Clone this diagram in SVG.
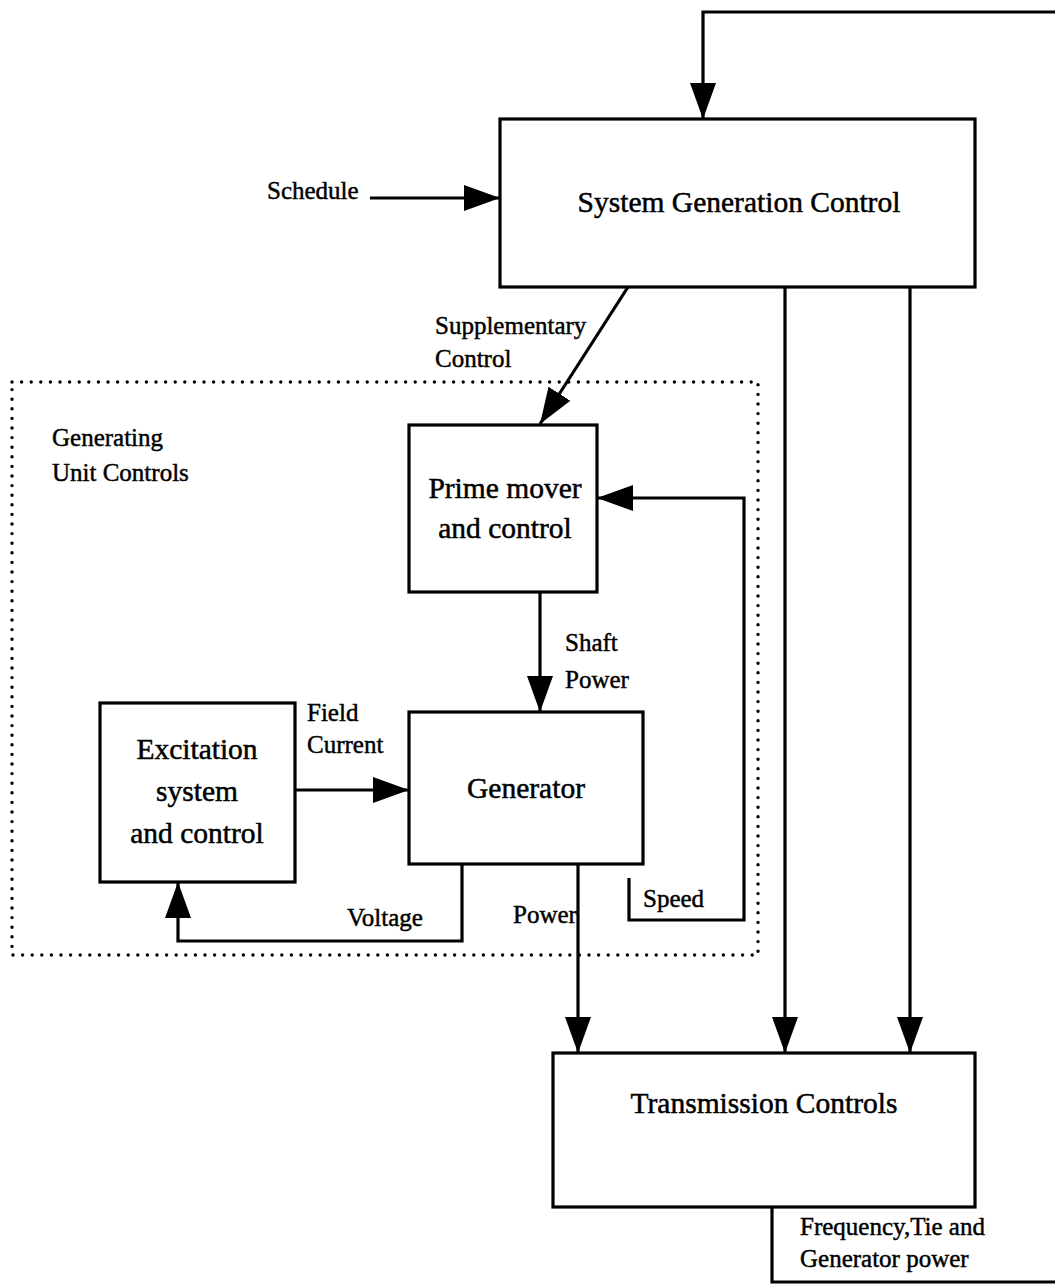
<svg xmlns="http://www.w3.org/2000/svg" width="1055" height="1284" viewBox="0 0 1055 1284">
  <style>
    .box { fill: #fff; stroke: #000; stroke-width: 3.2; }
    .wire { fill: none; stroke: #000; stroke-width: 3.2; }
    .group { fill: none; stroke: #000; stroke-width: 3.4; stroke-dasharray: 0 9.6; stroke-linecap: round; }
    .title { font-family: "Liberation Serif", "Times New Roman", serif; font-size: 29.5px; fill: #000; stroke: #000; stroke-width: 0.5; }
    .label { font-family: "Liberation Serif", "Times New Roman", serif; font-size: 25px; fill: #000; stroke: #000; stroke-width: 0.45; }
  </style>
  <defs>
    <marker id="arrow" markerUnits="userSpaceOnUse" markerWidth="36" markerHeight="26" viewBox="0 0 36 26" refX="36" refY="13" orient="auto">
      <polygon points="0,0 36,13 0,26" fill="#000"/>
    </marker>
  </defs>

  <!-- dotted boundary of the generating unit -->
  <rect class="group" x="12" y="382" width="746" height="573"/>
  <text class="label" x="52" y="446">Generating</text>
  <text class="label" x="52" y="481">Unit Controls</text>

  <g id="connectors">
    <!-- feedback into system generation control -->
    <polyline class="wire" points="1058,12 703,12 703,119" marker-end="url(#arrow)"/>
    <!-- schedule input -->
    <line class="wire" x1="370" y1="198" x2="500" y2="198" marker-end="url(#arrow)"/>
    <!-- supplementary control -->
    <line class="wire" x1="628" y1="287" x2="540" y2="424" marker-end="url(#arrow)"/>
    <!-- shaft power -->
    <line class="wire" x1="540" y1="592" x2="540" y2="712" marker-end="url(#arrow)"/>
    <!-- field current -->
    <line class="wire" x1="295" y1="790" x2="409" y2="790" marker-end="url(#arrow)"/>
    <!-- voltage feedback -->
    <polyline class="wire" points="462,864 462,941 178,941 178,882" marker-end="url(#arrow)"/>
    <!-- speed feedback -->
    <polyline class="wire" points="629,878 629,920 744,920 744,498 597,498" marker-end="url(#arrow)"/>
    <!-- generator power -->
    <line class="wire" x1="578" y1="864" x2="578" y2="1053" marker-end="url(#arrow)"/>
    <!-- system generation control to transmission controls -->
    <line class="wire" x1="785" y1="287" x2="785" y2="1053" marker-end="url(#arrow)"/>
    <line class="wire" x1="910" y1="287" x2="910" y2="1053" marker-end="url(#arrow)"/>
    <!-- measured outputs -->
    <polyline class="wire" points="772,1207 772,1282 1058,1282"/>
  </g>

  <text class="label" x="267" y="199">Schedule</text>
  <text class="label" x="435" y="334">Supplementary</text>
  <text class="label" x="435" y="367">Control</text>
  <text class="label" x="565" y="651">Shaft</text>
  <text class="label" x="565" y="688">Power</text>
  <text class="label" x="307" y="721">Field</text>
  <text class="label" x="307" y="753">Current</text>
  <text class="label" x="347" y="926">Voltage</text>
  <text class="label" x="513" y="923">Power</text>
  <text class="label" x="643" y="907">Speed</text>
  <text class="label" x="800" y="1235">Frequency,Tie and</text>
  <text class="label" x="800" y="1267">Generator power</text>

  <g id="system-generation-control">
    <rect class="box" x="500" y="119" width="475" height="168"/>
    <text class="title" x="739" y="212" text-anchor="middle">System Generation Control</text>
  </g>

  <g id="prime-mover">
    <rect class="box" x="409" y="425" width="188" height="167"/>
    <text class="title" x="505" y="498" text-anchor="middle">Prime mover</text>
    <text class="title" x="505" y="538" text-anchor="middle">and control</text>
  </g>

  <g id="generator">
    <rect class="box" x="409" y="712" width="234" height="152"/>
    <text class="title" x="526" y="798" text-anchor="middle">Generator</text>
  </g>

  <g id="excitation">
    <rect class="box" x="100" y="703" width="195" height="179"/>
    <text class="title" x="197" y="759" text-anchor="middle">Excitation</text>
    <text class="title" x="197" y="801" text-anchor="middle">system</text>
    <text class="title" x="197" y="843" text-anchor="middle">and control</text>
  </g>

  <g id="transmission-controls">
    <rect class="box" x="553" y="1053" width="422" height="154"/>
    <text class="title" x="764" y="1113" text-anchor="middle">Transmission Controls</text>
  </g>
</svg>
